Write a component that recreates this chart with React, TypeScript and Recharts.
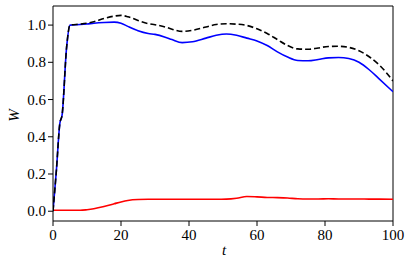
import React from "react";
import { LineChart, Line, XAxis, YAxis, ReferenceLine } from "recharts";

const tValues = [0, 1, 2, 2.7, 4, 5, 8, 10, 12, 15, 18, 20, 22, 25, 28, 30, 33, 35, 38, 41, 45, 48, 51, 54, 57, 60, 63, 66, 69, 72, 75, 78, 81, 84, 87, 90, 93, 96, 100];
const totalW = [0, 0.22, 0.47, 0.52, 0.88, 1.0, 1.005, 1.01, 1.018, 1.035, 1.048, 1.052, 1.045, 1.025, 1.008, 1.002, 0.99, 0.978, 0.966, 0.972, 0.99, 1.003, 1.007, 1.005, 0.998, 0.98, 0.955, 0.922, 0.89, 0.872, 0.87, 0.877, 0.885, 0.886, 0.88, 0.862, 0.83, 0.785, 0.70];
const blueW = [0, 0.22, 0.47, 0.52, 0.88, 1.0, 1.003, 1.006, 1.01, 1.014, 1.016, 1.01, 0.993, 0.97, 0.955, 0.95, 0.935, 0.922, 0.906, 0.91, 0.93, 0.945, 0.952, 0.945, 0.93, 0.915, 0.89, 0.856, 0.828, 0.81, 0.808, 0.815, 0.824, 0.826, 0.82, 0.8, 0.76, 0.71, 0.642];
const redW = [0.005, 0.005, 0.005, 0.005, 0.005, 0.005, 0.005, 0.008, 0.013, 0.025, 0.04, 0.05, 0.058, 0.063, 0.064, 0.064, 0.064, 0.064, 0.064, 0.064, 0.064, 0.064, 0.065, 0.07, 0.079, 0.077, 0.074, 0.073, 0.071, 0.067, 0.066, 0.066, 0.067, 0.066, 0.066, 0.066, 0.065, 0.065, 0.064];
const xTicks = [0, 20, 40, 60, 80, 100];
const yTicks = [0, 0.2, 0.4, 0.6, 0.8, 1.0];
const yDomain: [number, number] = [-0.0525, 1.1025];
const xDomain: [number, number] = [0, 100];

const data = tValues.map((t, i) => ({ t, total: totalW[i], blue: blueW[i], red: redW[i] }));

const FONT = "'Liberation Serif'";
const txt = { fontFamily: FONT, fontSize: 15, fill: "#000" } as React.CSSProperties;

const XTick = (props: any) => {
  const { x, y, payload } = props;
  return (
    <text x={x} y={y + 12} textAnchor="middle" fontFamily="Liberation Serif" style={txt}>
      {payload.value}
    </text>
  );
};

const YTick = (props: any) => {
  const { x, y, payload } = props;
  return (
    <text x={x} y={y + 5} textAnchor="end" fontFamily="Liberation Serif" style={txt}>
      {Number(payload.value).toFixed(1)}
    </text>
  );
};

const YLabel = (props: any) => {
  const vb = props.viewBox || { x: 0, y: 6, width: 53, height: 215 };
  const cx = 14;
  const cy = vb.y + vb.height / 2 + 2;
  return (
    <text x={cx} y={cy} transform={`rotate(-90 ${cx} ${cy})`} textAnchor="middle" dominantBaseline="central" fontFamily="Liberation Serif" style={{ ...txt, fontStyle: "italic" }}>
      W
    </text>
  );
};

const XLabel = (props: any) => {
  const vb = props.viewBox || { x: 53, y: 221, width: 340, height: 46 };
  const cx = vb.x + vb.width / 2 + 1;
  return (
    <text x={cx} y={vb.y + 34} textAnchor="middle" fontFamily="Liberation Serif" style={{ ...txt, fontStyle: "italic" }}>
      t
    </text>
  );
};

export default function App() {
  return (
    <div style={{ position: "absolute", left: 0, top: 0, width: 411, height: 267, background: "#fff", fontFamily: FONT }}>
      <LineChart width={411} height={267} data={data} margin={{ top: 6, right: 18, bottom: 0, left: 0 }}>
        <XAxis
          dataKey="t"
          type="number"
          domain={xDomain}
          ticks={xTicks}
          height={46}
          tick={<XTick />}
          tickLine={{ stroke: "#000" }}
          axisLine={{ stroke: "#000", strokeWidth: 1 }}
          tickSize={5}
          allowDataOverflow
          label={<XLabel />}
        />
        <YAxis
          type="number"
          domain={yDomain}
          ticks={yTicks}
          width={53}
          allowDataOverflow
          tick={<YTick />}
          tickLine={{ stroke: "#000" }}
          axisLine={{ stroke: "#000", strokeWidth: 1 }}
          tickSize={5}
          label={<YLabel />}
        />
        <ReferenceLine y={yDomain[1]} stroke="#000" strokeWidth={1} />
        <ReferenceLine x={xDomain[1]} stroke="#000" strokeWidth={1} />
        <Line type="monotone" dataKey="red" stroke="#ff0000" strokeWidth={1.6} dot={false} isAnimationActive={false} />
        <Line type="monotone" dataKey="blue" stroke="#0000ff" strokeWidth={1.6} dot={false} isAnimationActive={false} />
        <Line type="monotone" dataKey="total" stroke="#000" strokeWidth={1.6} strokeDasharray="6 3" dot={false} isAnimationActive={false} />
      </LineChart>
    </div>
  );
}
